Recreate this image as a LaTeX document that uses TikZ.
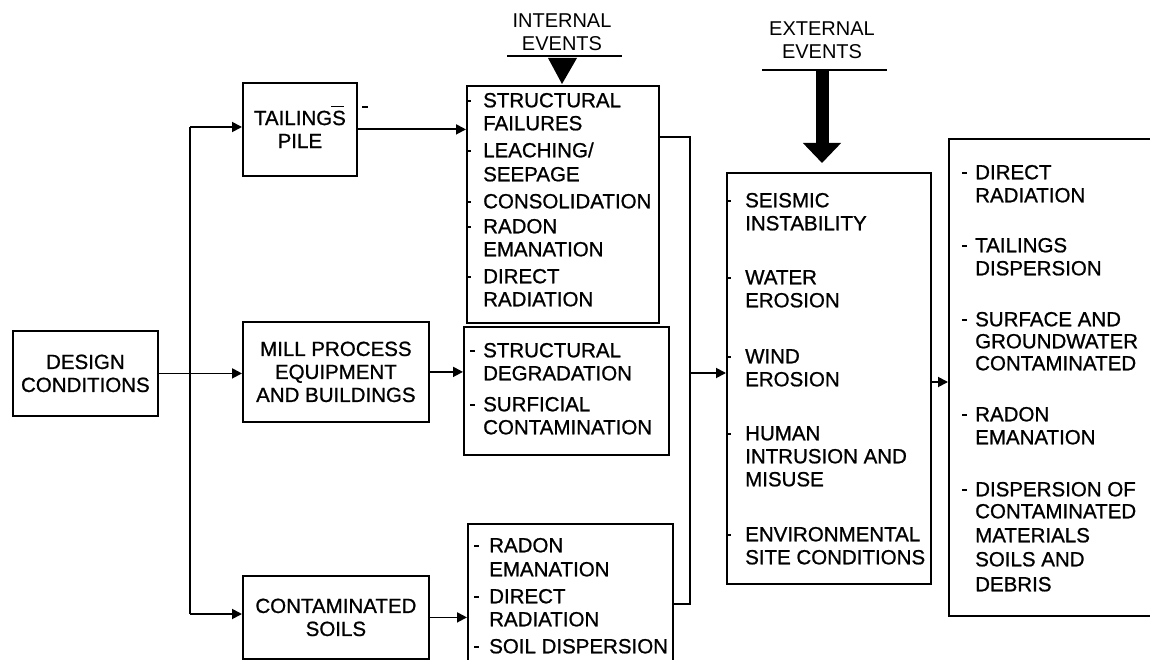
\documentclass[tikz,border=0pt]{standalone}
\usepackage{fontspec}
\setmainfont{Liberation Sans}
\newfontfamily\medfont[FakeBold=0.9]{Liberation Sans}
\usetikzlibrary{arrows.meta}
\newcommand\itemlines[3]{%
  \foreach \yy/\txt [count=\i] in {#3} {\node[itm] (#1\i) at (#2,\yy+7.3) {\txt};}}
\begin{document}
\begin{tikzpicture}[x=1pt,y=-1pt,
  box/.style={draw,line width=1.8pt,anchor=north west,inner sep=0pt,align=center,
    font=\medfont\fontsize{20.5}{23}\selectfont},
  hdr/.style={inner sep=0pt,align=center,font=\fontsize{20}{22.5}\selectfont},
  itm/.style={font=\medfont\fontsize{20.5}{23}\selectfont,anchor=base west,inner sep=0pt},
  conn/.style={line width=1.8pt,-{Triangle[length=10pt,width=10pt]}},
  wire/.style={line width=1.8pt},
  dashmark/.style={line width=1.6pt}]
\useasboundingbox[fill=white] (0,0) rectangle (1150,660);

% left column
\node[box,minimum width=145pt,minimum height=85pt] (dc) at (12,330) {DESIGN\\CONDITIONS};
\node[box,minimum width=114pt,minimum height=93pt] (tp) at (242,82) {TAILINGS\\PILE};
\node[box,minimum width=186pt,minimum height=100pt] (mill) at (242,321) {MILL PROCESS\\EQUIPMENT\\AND BUILDINGS};
\node[box,minimum width=186pt,minimum height=83pt] (cs) at (242,575) {CONTAMINATED\\SOILS};

% stray marks of the original
\draw[line width=1pt] (331,107) -- (344,107);
\draw[line width=1.2pt] (362,107) -- (368,107);

% event boxes
\node[box,minimum width=192pt,minimum height=237pt] (ie) at (466,85) {};
\node[box,minimum width=205pt,minimum height=128pt] (me) at (463,326) {};
\node[box,minimum width=205pt,minimum height=150pt] (se) at (467,523) {};
\node[box,minimum width=204pt,minimum height=411pt] (ext) at (726,172) {};
\node[box,minimum width=230pt,minimum height=477pt] (out) at (948,138) {};

% headers
\node[hdr] (ih) at (562,32) {INTERNAL\\EVENTS};
\draw[wire] (507,56) -- (622,56);
\fill (548,58) -- (577,58) -- (562,84) -- cycle;
\node[hdr] (eh) at (822,40) {EXTERNAL\\EVENTS};
\draw[wire] (762,70) -- (887,70);
\coordinate (ea) at (822,70);
\coordinate (eb) at (822,163);
\draw[line width=13pt,-{Triangle[length=20pt,width=37pt]}] (ea) -- (eb);

% list texts
\itemlines{a}{483}{100/STRUCTURAL,123/FAILURES,150/{LEACHING/},174/SEEPAGE,201/CONSOLIDATION,226/RADON,249/EMANATION,276/DIRECT,299/RADIATION}
\foreach \yy in {101,151,202,227,277} \draw[dashmark] (466,\yy) -- (471,\yy);

\itemlines{b}{483}{350/STRUCTURAL,373/DEGRADATION,404/SURFICIAL,427/CONTAMINATION}
\foreach \yy in {351,405} \draw[dashmark] (470,\yy) -- (475,\yy);

\itemlines{c}{489}{545/RADON,569/EMANATION,596/DIRECT,619/RADIATION,646/SOIL DISPERSION}
\foreach \yy in {546,597,647} \draw[dashmark] (474,\yy) -- (479,\yy);

\itemlines{d}{745}{200/SEISMIC,223/INSTABILITY,277/WATER,300/EROSION,356/WIND,379/EROSION,433/HUMAN,456/INTRUSION AND,479/MISUSE,534/ENVIRONMENTAL,557/SITE CONDITIONS}
\foreach \yy in {201,278,357,434,535} \draw[dashmark] (726,\yy) -- (731,\yy);

\itemlines{e}{975}{172/DIRECT,195/RADIATION,245/TAILINGS,268/DISPERSION,319/SURFACE AND,341/GROUNDWATER,363/CONTAMINATED,414/RADON,437/EMANATION,489/DISPERSION OF,511/CONTAMINATED,535/MATERIALS,559/SOILS AND,584/DEBRIS}
\foreach \yy in {173,246,320,415,490} \draw[dashmark] (962,\yy) -- (967,\yy);

% connectors
\coordinate (jt) at (190,127);
\coordinate (jb) at (190,614);
\draw[wire] (jt) -- (jb);
\draw[conn] (jt) -- (jt -| tp.west);
\draw[conn] (dc.east) -- (dc.east -| mill.west);
\draw[conn] (jb) -- (jb -| cs.west);
\draw[conn] (tp.east) -- (tp.east -| ie.west);
\draw[conn] (mill.east) -- (mill.east -| me.west);
\draw[conn] (cs.east) -- (cs.east -| se.west);

\coordinate (ct) at (690,137);
\coordinate (cb) at (690,604);
\coordinate (cm) at (690,373);
\draw[wire] (ct -| ie.east) -- (ct) -- (cb) -- (cb -| se.east);
\draw[conn] (cm) -- (cm -| ext.west);
\coordinate (eo) at (930,382);
\draw[conn] (eo) -- (eo -| out.west);
\end{tikzpicture}
\end{document}
